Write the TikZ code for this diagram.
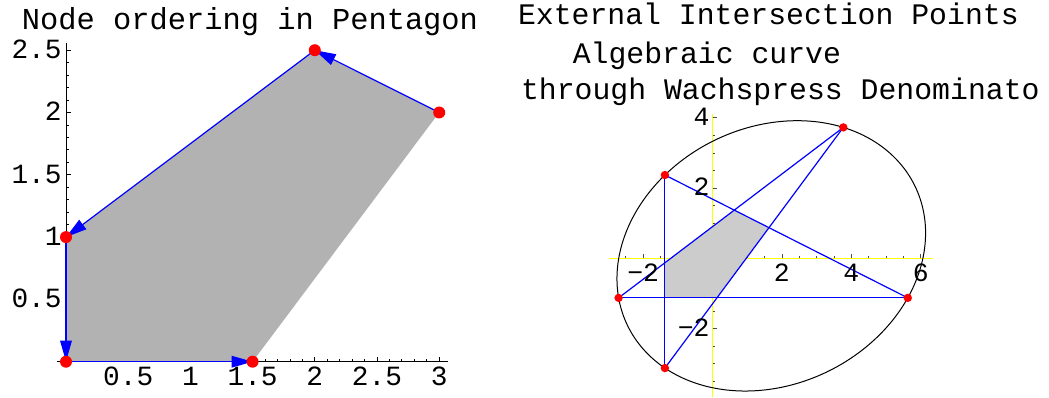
\documentclass[tikz,border=0pt]{standalone}
\usepackage{fontspec}
\setmonofont{Liberation Mono}
\usetikzlibrary{arrows.meta}
\definecolor{plotblue}{RGB}{0,0,255}
\definecolor{plotred}{RGB}{255,0,0}
\definecolor{plotyellow}{RGB}{255,255,0}

\begin{document}
\begin{tikzpicture}[
  font=\ttfamily,
  ttl/.style={font=\fontsize{15.2}{18}\selectfont\ttfamily, inner sep=0pt, anchor=base},
  ttr/.style={font=\fontsize{14.9}{18}\selectfont\ttfamily, inner sep=0pt, anchor=base west},
  lblL/.style={font=\fontsize{13.9}{16}\selectfont\ttfamily, inner sep=0pt},
  lblR/.style={font=\fontsize{13.2}{16}\selectfont\ttfamily, inner sep=0pt},
  axisL/.style={black, line width=0.5pt},
  tickL/.style={black, line width=0.4pt},
  axisR/.style={plotyellow, line width=0.8pt},
  tickR/.style={black!70, line width=0.4pt},
  arr/.style={-{Triangle[length=10.5pt,width=5.8pt]}, plotblue, line width=0.6pt},
  star/.style={plotblue, line width=0.6pt},
  curve/.style={black, line width=0.5pt},
  dotL/.style={circle, fill=plotred, inner sep=0pt, minimum size=6pt},
  dotR/.style={circle, fill=plotred, inner sep=0pt, minimum size=4.2pt}
]
\path[use as bounding box] (0,0) rectangle (524.5pt,198.5pt);
\clip (0,0) rectangle (524.5pt,198.5pt);

%% left plot: pentagon with ordered edges
\begin{scope}[shift={(33pt,17.65pt)}, x=62.2pt, y=62.3pt]
  \draw[axisL] (-0.075,0) -- (3.07,0);
  \draw[axisL] (0,-0.01) -- (0,2.555);
  \foreach \t in {1,...,30} \draw[tickL] (\t/10,0) -- ++(0,1.5pt);
  \foreach \t in {1,...,25} \draw[tickL] (0,\t/10) -- ++(1.5pt,0);
  \foreach \t in {5,10,...,30} \draw[tickL] (\t/10,0) -- ++(0,2.6pt);
  \foreach \t in {5,10,...,25} \draw[tickL] (0,\t/10) -- ++(2.6pt,0);

  \coordinate (v1) at (1.5,0);
  \coordinate (v2) at (3,2);
  \coordinate (v3) at (2,2.5);
  \coordinate (v4) at (0,1);
  \coordinate (v5) at (0,0);
  \fill[black!30] (v1) -- (v2) -- (v3) -- (v4) -- (v5) -- cycle;
  \draw[arr] (v2) -- (v3); \draw[arr] (v3) -- (v4);
  \draw[arr] (v4) -- (v5); \draw[arr] (v5) -- (v1);
  \foreach \v in {1,...,5} \node[dotL] (dl\v) at (v\v) {};

  \foreach \x [count=\i] in {0.5,1,1.5,2,2.5,3}
    \node[lblL, anchor=base, yshift=-11.65pt] (xl\i) at (\x,0) {\x};
  \foreach \y [count=\i] in {0.5,1,1.5,2,2.5}
    \node[lblL, anchor=base east, xshift=-2pt, yshift=-4.2pt] (yl\i) at (0,\y) {\y};
\end{scope}
\node[ttl] (titleL) at (125pt,183.85pt) {Node ordering in Pentagon};

%% right plot: star of extended edges and the conic
\begin{scope}[shift={(356.25pt,69.35pt)}, x=17.35pt, y=17.55pt]
  \draw[axisR] (-2.97,0) -- (6.36,0);
  \draw[axisR] (0,-3.94) -- (0,4.10);
  \foreach \t in {-5,-4,...,12} \draw[tickR] (\t/2,0) -- ++(0,1.2pt);
  \foreach \t in {-7,-6,...,8} \draw[tickR] (0,\t/2) -- ++(1.2pt,0);
  \foreach \t in {-2,2,4,6} \draw[tickR] (\t,0) -- ++(0,2pt);
  \foreach \t in {-2,2,4} \draw[tickR] (0,\t) -- ++(2pt,0);

  % pentagon moved to its centroid
  \coordinate (p1) at (-1.3725,-1.1275);
  \coordinate (p2) at (0.1275,-1.1275);
  \coordinate (p3) at (1.6275,0.8725);
  \coordinate (p4) at (0.6275,1.3725);
  \coordinate (p5) at (-1.3725,-0.1275);
  % external intersection points
  \coordinate (q1) at (5.6275,-1.1275);
  \coordinate (q2) at (-2.7058,-1.1275);
  \coordinate (q3) at (3.7704,3.7296);
  \coordinate (q4) at (-1.3725,-3.1275);
  \coordinate (q5) at (-1.3725,2.3725);

  \fill[black!20] (p1) -- (p2) -- (p3) -- (p4) -- (p5) -- cycle;
  \draw[star] (q5) -- (q4);
  \draw[star] (q5) -- (q1);
  \draw[star] (q2) -- (q1);
  \draw[star] (q2) -- (q3);
  \draw[star] (q4) -- (q3);
  \draw[curve] plot[domain=0:360, samples=120, smooth]
    ({1.6936+4.594*cos(\x)*0.90851-3.675*sin(\x)*0.41787},
     {0.0696+4.594*cos(\x)*0.41787+3.675*sin(\x)*0.90851});
  \foreach \q in {1,...,5} \node[dotR] (dr\q) at (q\q) {};

  \foreach \x [count=\i] in {-2,2,4,6}
    \node[lblR, anchor=base, yshift=-11.7pt] (xr\i) at (\x,0) {\ifnum\x<0 −\the\numexpr-\x\relax\else\x\fi};
  \node[lblR, anchor=base east, xshift=-1.3pt, yshift=-3.9pt] (yr1) at (0,4) {4};
  \node[lblR, anchor=base east, xshift=-1.3pt, yshift=-3.9pt] (yr2) at (0,2) {2};
  \node[lblR, anchor=base east, xshift=-1.3pt, yshift=-3.9pt] (yr3) at (0,-2) {−2};
\end{scope}
\begin{scope}
  \clip (0,0) rectangle (521pt,198.5pt);
  \node[ttr] (titleR1) at (258.8pt,186pt) {External Intersection Points};
  \node[ttr] (titleR2) at (286.2pt,166.85pt) {Algebraic curve};
  \node[ttr] (titleR3) at (260.3pt,148.5pt) {through Wachspress Denominator};
\end{scope}
\end{tikzpicture}
\end{document}
